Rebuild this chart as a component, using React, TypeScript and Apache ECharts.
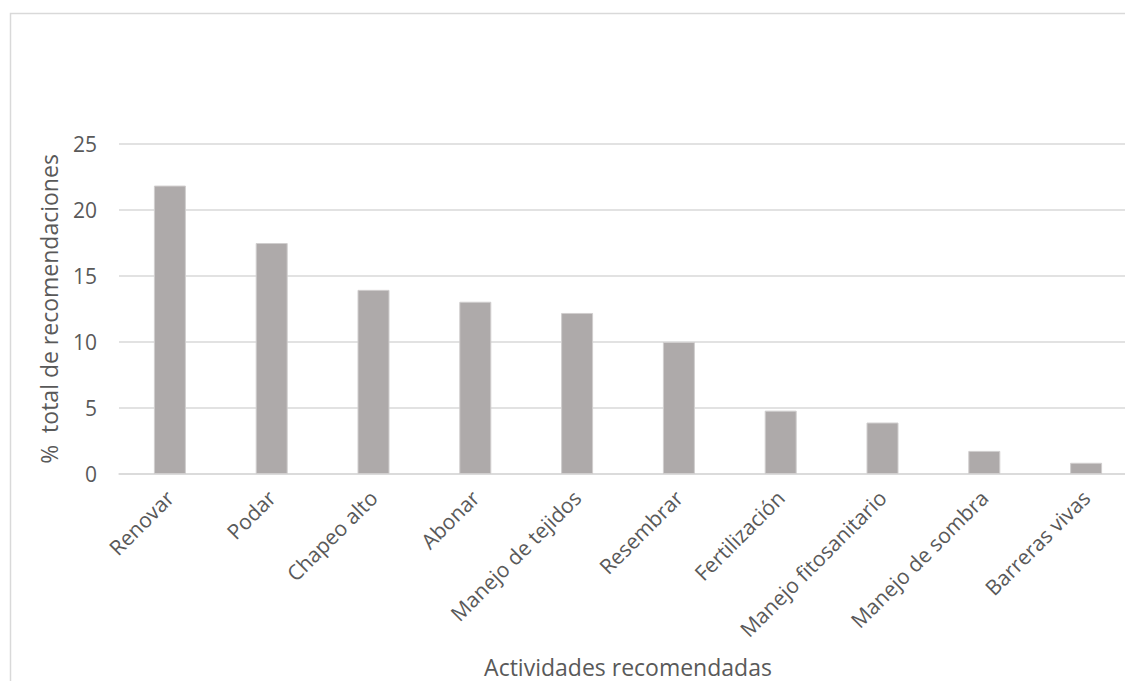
import React, { useEffect, useRef } from "react";
import * as echarts from "echarts";

const categories = [
  "Renovar",
  "Podar",
  "Chapeo alto",
  "Abonar",
  "Manejo de tejidos",
  "Resembrar",
  "Fertilización",
  "Manejo fitosanitario",
  "Manejo de sombra",
  "Barreras vivas",
];
const values = [21.85, 17.5, 13.95, 13.05, 12.2, 10.0, 4.8, 3.9, 1.75, 0.85];
const yTicks = { min: 0, max: 25, interval: 5 };
const xTitle = "Actividades recomendadas";
const yTitle = "%  total de recomendaciones";

const FONT = "'Open Sans', sans-serif";
const TXT = "#595959";

export default function App() {
  const ref = useRef<HTMLDivElement>(null);
  useEffect(() => {
    if (!ref.current) return;
    const chart = echarts.init(ref.current, undefined, { renderer: "svg" });
    chart.setOption({
      animation: false,
      backgroundColor: "#ffffff",
      textStyle: { fontFamily: FONT },
      graphic: [
        {
          type: "rect",
          shape: { x: 10.5, y: 13.5, width: 1300, height: 900 },
          style: { fill: "none", stroke: "#d9d9d9", lineWidth: 1.5 },
          silent: true,
        },
      ],
      grid: { left: 119, top: 144, width: 1018, height: 330, containLabel: false },
      xAxis: {
        type: "category",
        data: categories,
        name: xTitle,
        nameLocation: "middle",
        nameGap: 181,
        nameTextStyle: { color: TXT, fontSize: 23, fontFamily: FONT, verticalAlign: "top" },
        axisLine: { show: true, lineStyle: { color: "#d9d9d9", width: 1.5 } },
        axisTick: { show: false },
        axisLabel: {
          rotate: 45,
          interval: 0,
          margin: 20,
          color: TXT,
          fontSize: 21,
          fontFamily: FONT,
        },
      },
      yAxis: {
        type: "value",
        min: yTicks.min,
        max: yTicks.max,
        interval: yTicks.interval,
        name: yTitle,
        nameLocation: "middle",
        nameGap: 59,
        nameRotate: 90,
        nameTextStyle: { color: TXT, fontSize: 23, fontFamily: FONT },
        axisLine: { show: false },
        axisTick: { show: false },
        axisLabel: { color: TXT, fontSize: 21, fontFamily: FONT, margin: 22 },
        splitLine: { lineStyle: { color: "#d9d9d9", width: 1.5 } },
      },
      series: [
        {
          type: "bar",
          data: values,
          barWidth: 32,
          itemStyle: { color: "#aeaaaa", borderColor: "#d0cece", borderWidth: 1 },
        },
      ],
    });
    return () => chart.dispose();
  }, []);
  return (
    <div
      style={{
        position: "absolute",
        left: 0,
        top: 0,
        width: 1125,
        height: 681,
        overflow: "hidden",
        background: "#ffffff",
      }}
    >
      <div ref={ref} style={{ width: 1142, height: 681 }} />
    </div>
  );
}
